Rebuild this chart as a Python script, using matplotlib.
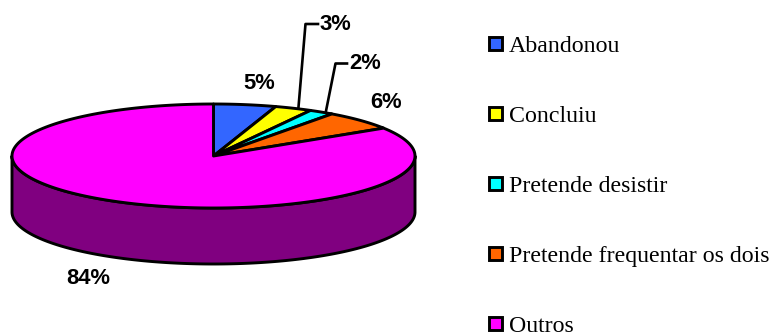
import matplotlib
matplotlib.use('Agg')
import matplotlib.pyplot as plt
import numpy as np
from matplotlib.patches import Polygon, Rectangle

categories = ['Abandonou', 'Concluiu', 'Pretende desistir', 'Pretende frequentar os dois', 'Outros']
values = [5, 3, 2, 6, 84]
colors = ['#3366FF', '#FFFF00', '#00FFFF', '#FF6600', '#FF00FF']
side_color = '#800080'

# pie geometry, in pixels
cx, cy = 213.5, 156
rx, ry = 201.5, 52
depth = 56

fig = plt.figure(figsize=(7.72, 3.33), dpi=100)
ax = fig.add_axes([0, 0, 1, 1])
ax.set_xlim(0, 772)
ax.set_ylim(333, 0)
ax.axis('off')


def rim(a0, a1):
    # angles clockwise from the top of the ellipse
    t = np.radians(np.linspace(a0, a1, 200))
    return np.column_stack([cx + rx * np.sin(t), cy - ry * np.cos(t)])


# side wall, only the front half shows
front = rim(90, 270)
wall = np.vstack([front, (front + [0, depth])[::-1]])
ax.add_patch(Polygon(wall, closed=True, fc=side_color, ec='black', lw=2.1, joinstyle='round'))

start = 0
for val, col in zip(values, colors):
    end = start + val * 3.6
    pts = np.vstack([[cx, cy], rim(start, end)])
    ax.add_patch(Polygon(pts, closed=True, fc=col, ec='black', lw=2.1, joinstyle='round'))
    start = end

# percentage labels
lab = dict(family='Liberation Sans', fontweight='bold', fontsize=15.8, color='black', ha='center', va='center')
ax.text(259, 83.5, '5%', **lab)
ax.text(335.5, 24.5, '3%', **lab)
ax.text(365.5, 63.5, '2%', **lab)
ax.text(386, 102.5, '6%', **lab)
ax.text(88.5, 278.5, '84%', **lab)

# leader lines
ax.plot([298.5, 305.5, 318], [107, 24, 24], color='black', lw=1.9)
ax.plot([326, 335.5, 347], [111, 63.5, 63.5], color='black', lw=1.9)

# legend
legend_y = [43.7, 113.5, 183.5, 253.5, 323.5]
for name, col, y in zip(categories, colors, legend_y):
    ax.add_patch(Rectangle((488.8, y - 6.7), 13.4, 13.4, fc=col, ec='black', lw=2.1))
    ax.text(509, y + 8.3, name, family='Liberation Serif', fontsize=17.2, color='black', ha='left', va='baseline')

fig.savefig('out.png', dpi=100)
